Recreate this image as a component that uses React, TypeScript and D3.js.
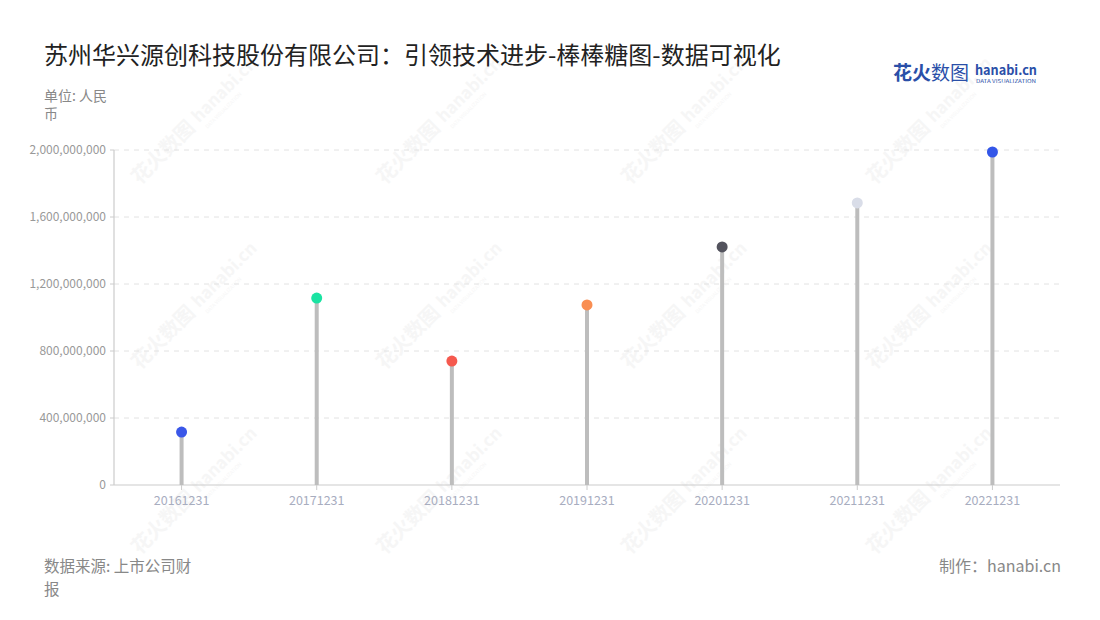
import React from "react";
import * as d3 from "d3";

const categories = ["20161231", "20171231", "20181231", "20191231", "20201231", "20211231", "20221231"];
const values = [316000000, 1116000000, 740000000, 1075000000, 1421000000, 1684000000, 1988000000];
const dotColors = ["#3a57e8", "#1ae3a2", "#f5594e", "#f98e52", "#53535d", "#d9dde8", "#3356e8"];
const yTicks = [0, 400000000, 800000000, 1200000000, 1600000000, 2000000000];

const W = 1100, H = 620;
const m = { left: 114, right: 1060, top: 150, bottom: 485 };
const FONT = '"Noto Sans CJK SC", "Noto Sans", sans-serif';

export default function App() {
  const x = d3.scaleBand<string>().domain(categories).range([m.left, m.right]).padding(0);
  const y = d3.scaleLinear().domain([0, 2000000000]).range([m.bottom, m.top]);
  const fmt = d3.format(",");

  const wm: { x: number; y: number }[] = [];
  for (let i = 0; i < 4; i++) for (let j = 0; j < 3; j++) wm.push({ x: 175 + i * 245, y: 150 + j * 185 });

  return (
    <svg width={W} height={H} style={{ position: "absolute", left: 0, top: 0, fontFamily: FONT }}>
      <rect width={W} height={H} fill="#fff" />
      {/* watermarks */}
      {wm.map((p, i) => (
        <g key={i} transform={`translate(${p.x},${p.y}) rotate(-45)`} opacity={0.45}>
          <text x={-50} y={0} fontSize={20} fontWeight="bold" fill="#ececec">花火数图</text>
          <text x={36} y={-2} fontSize={17} fontWeight="bold" fill="#ececec">hanabi.cn</text>
          <text x={38} y={8} fontSize={5} fill="#ececec">DATA VISUALIZATION</text>
        </g>
      ))}
      <text x={44} y={64} fontSize={24} fill="#222">苏州华兴源创科技股份有限公司：引领技术进步-棒棒糖图-数据可视化</text>
      {/* logo */}
      <text x={893} y={80} fontSize={19} fontWeight="bold" fill="#2a4fa8">花火<tspan fontWeight="normal">数图</tspan></text>
      <text x={975} y={75} fontSize={13} fontWeight="bold" fill="#2a4fa8" textLength={62} lengthAdjust="spacingAndGlyphs">hanabi.cn</text>
      <text x={976} y={83} fontSize={4.5} fill="#2a4fa8" textLength={60} lengthAdjust="spacingAndGlyphs">DATA VISUALIZATION</text>

      <text x={44} y={101} fontSize={14} fill="#888">单位: 人民</text>
      <text x={44} y={119} fontSize={14} fill="#888">币</text>

      {/* grid */}
      {yTicks.map((t) => (
        <g key={t}>
          {t > 0 && (
            <line x1={m.left} x2={m.right} y1={y(t)} y2={y(t)} stroke="#e2e2e2" strokeDasharray="5,5" />
          )}
          <line x1={m.left - 4} x2={m.left} y1={y(t)} y2={y(t)} stroke="#ccc" />
          <text x={m.left - 8} y={y(t)} dy="0.35em" textAnchor="end" fontSize={12} fill="#999">{fmt(t)}</text>
        </g>
      ))}
      <line x1={m.left} x2={m.left} y1={m.top} y2={m.bottom} stroke="#ccc" strokeWidth={1.2} />
      <line x1={m.left} x2={m.right} y1={m.bottom} y2={m.bottom} stroke="#ccc" strokeWidth={1.2} />
      {categories.map((c) => {
        const cx = (x(c) as number) + x.bandwidth() / 2;
        return (
          <g key={c}>
            <line x1={cx} x2={cx} y1={m.bottom} y2={m.bottom + 5} stroke="#ccc" />
            <text x={cx} y={m.bottom + 20} textAnchor="middle" fontSize={12.5} fill="#a8adbf">{c}</text>
          </g>
        );
      })}
      {/* lollipops */}
      {categories.map((c, i) => {
        const cx = (x(c) as number) + x.bandwidth() / 2;
        return (
          <g key={c}>
            <line x1={cx} x2={cx} y1={y(0)} y2={y(values[i])} stroke="#bdbdbd" strokeWidth={4} />
            <circle cx={cx} cy={y(values[i])} r={5.5} fill={dotColors[i]} />
          </g>
        );
      })}

      <text x={44} y={572} fontSize={15.5} fill="#888">数据来源: 上市公司财</text>
      <text x={44} y={595} fontSize={15.5} fill="#888">报</text>
      <text x={1061} y={572} textAnchor="end" fontSize={16} fill="#888">制作：hanabi.cn</text>
    </svg>
  );
}
